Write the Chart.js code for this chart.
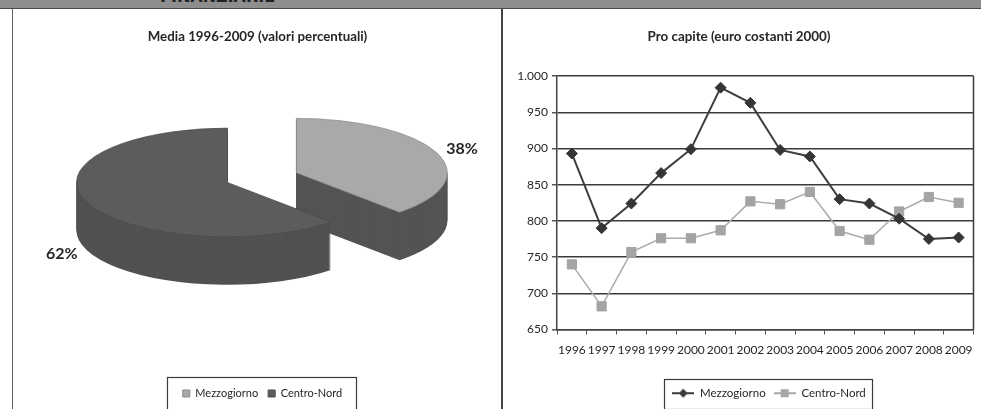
<!DOCTYPE html>
<html>
<head>
<meta charset="utf-8">
<title>Mezzogiorno e Centro-Nord</title>
<script src="https://cdn.jsdelivr.net/npm/chart.js"></script>
<style>
  html, body { margin: 0; padding: 0; background: #fff; }
  body { width: 981px; height: 409px; position: relative; overflow: hidden; }
  #header { position: absolute; left: 0; top: 0; width: 981px; height: 8px; background: #8e8e8e; border-bottom: 1px solid #4a4a4a; overflow: hidden; }
  #header span { position: absolute; left: 160px; top: -13px; font: bold 16px 'DejaVu Sans', sans-serif; color: #222; }
  #leftEdge { position: absolute; left: 12px; top: 9px; width: 1px; height: 400px; background: #666; }
  #divider { position: absolute; left: 501px; top: 9px; width: 2px; height: 400px; background: #444; }
  #pieChart { position: absolute; left: 14px; top: 20px; }
  #lineChart { position: absolute; left: 503px; top: 20px; }
</style>
</head>
<body>
  <div id="header"><span>FINANZIARIE</span></div>
  <div id="leftEdge"></div>
  <div id="divider"></div>
  <canvas id="pieChart" width="487" height="389"></canvas>
  <canvas id="lineChart" width="478" height="389"></canvas>

<script>
// data
const pieLabels = ['Mezzogiorno', 'Centro-Nord'];
const pieShares = [38, 62];

const years = ['1996', '1997', '1998', '1999', '2000', '2001', '2002',
               '2003', '2004', '2005', '2006', '2007', '2008', '2009'];
const mezzogiorno = [893, 790, 824, 866, 899, 984, 963, 898, 889, 830, 824, 803, 775, 777];
const centroNord = [740, 682, 757, 776, 776, 787, 827, 823, 840, 786, 774, 813, 833, 825];

const yMin = 650, yMax = 1000, yStep = 50;

const FONT = "Lato, 'Liberation Sans', sans-serif";
const TEXT = '#262626';

// 1000 -> "1.000"
function formatIt(v) {
    return String(v).replace(/\B(?=(\d{3})+(?!\d))/g, '.');
}

// fake 3d pie: squash the arcs and stack copies underneath for the side
const pie3d = {
    id: 'pie3d',
    beforeDatasetsDraw(chart, args, opts) {
        const ctx = chart.ctx;
        const ds = chart.data.datasets[0];
        const meta = chart.getDatasetMeta(0);
        meta.data.forEach((arc, i) => {
            const mid = (arc.startAngle + arc.endAngle) / 2;
            const ex = opts.explode[i] || 0;
            const ox = arc.x + opts.dx + Math.cos(mid) * ex;
            const oy = arc.y + opts.dy + Math.sin(mid) * ex * opts.tilt;
            const base = arc.options;
            const side = Object.assign({}, base, {
                backgroundColor: ds.sideColor[i], borderColor: ds.sideColor[i], borderWidth: 0
            });
            arc.options = side;
            for (let d = opts.depth; d >= 1; d--) {
                ctx.save();
                ctx.translate(ox, oy + d);
                ctx.scale(1, opts.tilt);
                ctx.translate(-arc.x, -arc.y);
                arc.draw(ctx);
                ctx.restore();
            }
            arc.options = base;
            ctx.save();
            ctx.translate(ox, oy);
            ctx.scale(1, opts.tilt);
            ctx.translate(-arc.x, -arc.y);
            arc.draw(ctx);
            ctx.restore();

            // percentage label outside the slice
            const rx = arc.outerRadius * opts.labelDist;
            let lx = ox + Math.cos(mid) * rx;
            let ly = oy + Math.sin(mid) * rx * opts.tilt;
            if (Math.sin(mid) > 0) ly += opts.depth;
            ctx.save();
            ctx.font = 'bold 16px ' + FONT;
            ctx.fillStyle = TEXT;
            ctx.textAlign = 'center';
            ctx.textBaseline = 'middle';
            ctx.fillText(pieShares[i] + '%', lx, ly);
            ctx.restore();
        });
        return false;
    }
};

// move the legend sideways and draw a frame round it
const legendFrame = {
    id: 'legendFrame',
    afterLayout(chart, args, opts) {
        chart.legend.left += opts.shift;
        chart.legend.right += opts.shift;
    },
    afterDraw(chart, args, opts) {
        const boxes = chart.legend.legendHitBoxes;
        if (!boxes || !boxes.length) return;
        const left = Math.min(...boxes.map(b => b.left)) - opts.padLeft;
        const right = Math.max(...boxes.map(b => b.left + b.width)) + opts.padRight;
        const top = boxes[0].top - opts.padTop;
        const bottom = boxes[0].top + boxes[0].height + opts.padBottom;
        const ctx = chart.ctx;
        ctx.save();
        ctx.strokeStyle = '#3c3c3c';
        ctx.lineWidth = 1.2;
        ctx.strokeRect(Math.round(left) + 0.5, Math.round(top) + 0.5, Math.round(right - left), Math.round(bottom - top));
        ctx.restore();
    }
};

// right edge of the plot area
const plotFrame = {
    id: 'plotFrame',
    afterDraw(chart) {
        const a = chart.chartArea;
        const ctx = chart.ctx;
        ctx.save();
        ctx.strokeStyle = '#3a3a3a';
        ctx.lineWidth = 1.5;
        ctx.beginPath();
        ctx.moveTo(a.right, a.top);
        ctx.lineTo(a.right, a.bottom);
        ctx.stroke();
        ctx.restore();
    }
};

new Chart(document.getElementById('pieChart'), {
    type: 'pie',
    data: {
        labels: pieLabels,
        datasets: [{
            data: pieShares,
            backgroundColor: ['#a9a9a9', '#5c5c5c'],
            sideColor: ['#545454', '#515151'],
            borderColor: ['#8a8a8a', '#4a4a4a'],
            borderWidth: 1,
            radius: 151,
            clip: false
        }]
    },
    options: {
        responsive: false,
        animation: false,
        events: [],
        layout: { padding: { bottom: 0 } },
        plugins: {
            title: {
                display: true,
                text: 'Media 1996-2009 (valori percentuali)',
                color: TEXT,
                font: { family: FONT, size: 13.3, weight: 'bold' },
                padding: { top: 9, bottom: 10 }
            },
            legend: {
                position: 'bottom',
                labels: {
                    boxWidth: 7,
                    boxHeight: 7,
                    padding: 10,
                    color: TEXT,
                    font: { family: FONT, size: 11 }
                }
            },
            tooltip: { enabled: false },
            pie3d: { tilt: 0.36, depth: 48, dx: -30, dy: -34, explode: [74, 0], labelDist: 1.18 },
            legendFrame: { shift: 5, padLeft: 16, padRight: 14, padTop: 11, padBottom: 13 }
        }
    },
    plugins: [pie3d, legendFrame]
});

// small legend icons: line with marker in the middle
function lineIcon(color, shape) {
    const c = document.createElement('canvas');
    c.width = 22; c.height = 12;
    const g = c.getContext('2d');
    g.strokeStyle = color;
    g.fillStyle = color;
    g.lineWidth = 2;
    g.beginPath(); g.moveTo(0, 6); g.lineTo(22, 6); g.stroke();
    g.beginPath();
    if (shape === 'diamond') {
        g.moveTo(11, 1.5); g.lineTo(15.5, 6); g.lineTo(11, 10.5); g.lineTo(6.5, 6);
    } else {
        g.rect(7, 2, 8, 8);
    }
    g.closePath(); g.fill();
    return c;
}
const lineIcons = [lineIcon('#3a3a3a', 'diamond'), lineIcon('#a6a6a6', 'square')];

new Chart(document.getElementById('lineChart'), {
    type: 'line',
    data: {
        labels: years,
        datasets: [{
            label: 'Mezzogiorno',
            data: mezzogiorno,
            borderColor: '#3e3e3e',
            backgroundColor: '#353535',
            borderWidth: 2,
            pointStyle: 'rectRot',
            pointRadius: 5.5,
            pointBorderColor: '#353535',
            pointBorderWidth: 1,
            tension: 0
        }, {
            label: 'Centro-Nord',
            data: centroNord,
            borderColor: '#ababab',
            backgroundColor: '#a4a4a4',
            borderWidth: 1.5,
            pointStyle: 'rect',
            pointRadius: 6.5,
            pointBorderColor: '#a4a4a4',
            pointBorderWidth: 1,
            tension: 0
        }]
    },
    options: {
        responsive: false,
        animation: false,
        events: [],
        layout: { padding: { left: 0, right: 6, top: 0, bottom: 0 } },
        scales: {
            x: {
                offset: true,
                grid: { offset: true, drawOnChartArea: false, tickLength: 5, tickColor: '#555' },
                border: { color: '#444', width: 1.5 },
                ticks: { autoSkip: false, maxRotation: 0, padding: 8, color: TEXT, font: { family: FONT, size: 12 } },
                afterFit: s => { s.height = 50; }
            },
            y: {
                min: yMin,
                max: yMax,
                ticks: { stepSize: yStep, padding: 4, color: TEXT, font: { family: FONT, size: 12 },
                         callback: v => formatIt(v) },
                grid: { color: '#3a3a3a', lineWidth: 1.5, tickLength: 5, tickColor: '#555' },
                border: { color: '#444', width: 1.5 },
                afterFit: s => { s.width = 54; }
            }
        },
        plugins: {
            title: {
                display: true,
                text: 'Pro capite (euro costanti 2000)',
                color: TEXT,
                font: { family: FONT, size: 13.4, weight: 'bold' },
                padding: { top: 9, bottom: 31 }
            },
            legend: {
                position: 'bottom',
                labels: {
                    usePointStyle: true,
                    pointStyleWidth: 22,
                    padding: 8,
                    color: TEXT,
                    font: { family: FONT, size: 11.5 },
                    generateLabels(chart) {
                        const items = Chart.defaults.plugins.legend.labels.generateLabels(chart);
                        items.forEach((it, i) => { it.pointStyle = lineIcons[i]; });
                        return items;
                    }
                }
            },
            tooltip: { enabled: false },
            legendFrame: { shift: 30, padLeft: 8, padRight: 6, padTop: 9, padBottom: 9 }
        }
    },
    plugins: [plotFrame, legendFrame]
});
</script>
</body>
</html>
